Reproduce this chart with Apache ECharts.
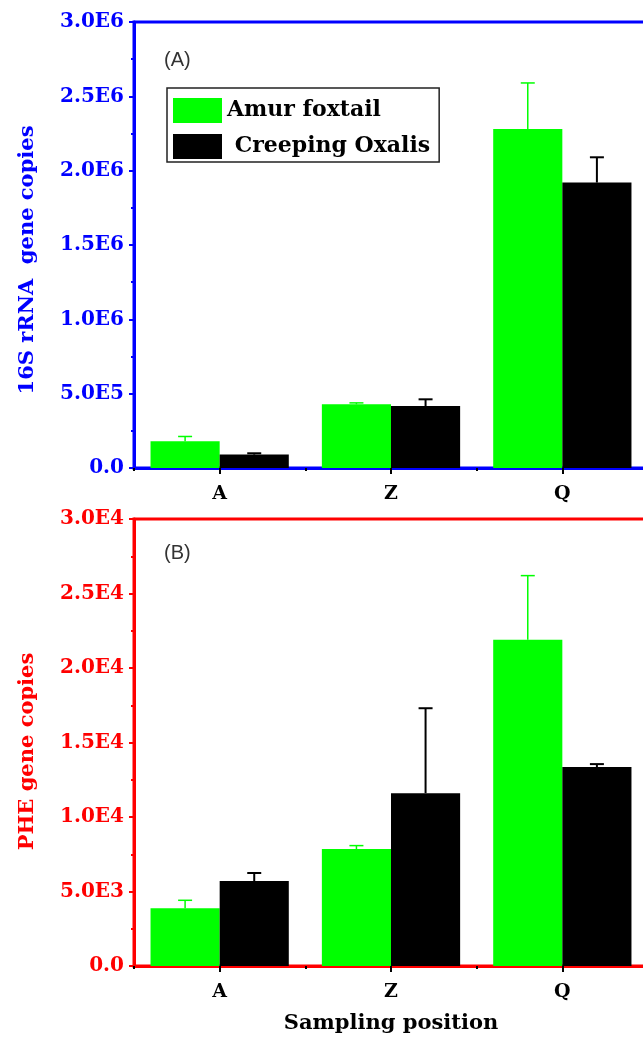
<!DOCTYPE html>
<html>
<head>
<meta charset="utf-8">
<script src="https://cdn.jsdelivr.net/npm/echarts@6/dist/echarts.min.js"></script>
<style>
html,body{margin:0;padding:0;background:#fff;}
#chart{width:643px;height:1038px;}
</style>
</head>
<body>
<div id="chart"></div>
<script>
// ---- data ----
const categories = ['A', 'Z', 'Q'];
const seriesNames = ['Amur foxtail', 'Creeping Oxalis'];

// Panel A: 16S rRNA gene copies
const rrnaAmur = [1.8e5, 4.28e5, 2.28e6];
const rrnaAmurErr = [0.32e5, 0.1e5, 0.31e6];
const rrnaOxalis = [0.9e5, 4.17e5, 1.92e6];
const rrnaOxalisErr = [0.09e5, 0.45e5, 0.17e6];

// Panel B: PHE gene copies
const pheAmur = [3870, 7850, 21900];
const pheAmurErr = [540, 230, 4300];
const pheOxalis = [5700, 11600, 13350];
const pheOxalisErr = [540, 5700, 200];

// tick labels
const rrnaTicks = ['0.0', '5.0E5', '1.0E6', '1.5E6', '2.0E6', '2.5E6', '3.0E6'];
const pheTicks = ['0.0', '5.0E3', '1.0E4', '1.5E4', '2.0E4', '2.5E4', '3.0E4'];

// ---- styles ----
const BLUE = '#0000ff', RED = '#ff0000', GREEN = '#00ff00', BLACK = '#000000';
const SERIF = '"DejaVu Serif", "Liberation Serif", serif';
const CAT_GAP = 0.193;

function errSeries(grid, vals, errs, sign, color, lw) {
  return {
    type: 'custom',
    xAxisIndex: grid * 2,
    yAxisIndex: grid,
    z: 5,
    silent: true,
    data: vals.map((v, i) => [i, v, errs[i]]),
    renderItem: function (params, api) {
      const xi = api.value(0), v = api.value(1), e = api.value(2);
      const base = api.coord([xi, v]);
      const top = api.coord([xi, v + e]);
      const band = api.size([1, 0])[0];
      const bw = band * (1 - CAT_GAP) / 2;
      const x = base[0] + sign * bw / 2;
      const st = { stroke: color, lineWidth: lw };
      return {
        type: 'group',
        children: [
          { type: 'line', shape: { x1: x, y1: base[1], x2: x, y2: top[1] }, style: st },
          { type: 'line', shape: { x1: x - 7, y1: top[1], x2: x + 7, y2: top[1] }, style: st }
        ]
      };
    }
  };
}

function xAxes(grid, color, withName) {
  return [
    {
      gridIndex: grid, type: 'category', data: categories, position: 'bottom',
      axisLine: { show: true, lineStyle: { color: color, width: 3 } },
      axisTick: { show: true, alignWithLabel: true, length: 6, lineStyle: { color: BLACK, width: 2 } },
      axisLabel: { margin: 17, color: BLACK, fontFamily: SERIF, fontWeight: 'bold', fontSize: 19 },
      splitLine: { show: false },
      name: withName ? 'Sampling position' : '',
      nameLocation: 'middle', nameGap: 47,
      nameTextStyle: { color: BLACK, fontFamily: SERIF, fontWeight: 'bold', fontSize: 21 }
    },
    {
      gridIndex: grid, type: 'category', data: categories, position: 'bottom',
      axisLine: { show: false },
      axisTick: { show: true, alignWithLabel: false, length: 3, lineStyle: { color: BLACK, width: 2 } },
      axisLabel: { show: false },
      splitLine: { show: false }
    }
  ];
}

function yAxis(grid, color, max, interval, ticks, name, pad) {
  return {
    gridIndex: grid, type: 'value', min: 0, max: max, interval: interval,
    axisLine: { show: true, lineStyle: { color: color, width: 3 } },
    axisTick: { show: true, length: 5, lineStyle: { color: color, width: 2 } },
    minorTick: { show: true, splitNumber: 2, length: 3, lineStyle: { color: color, width: 2 } },
    splitLine: { show: false },
    minorSplitLine: { show: false },
    axisLabel: {
      margin: 10, color: color, fontFamily: SERIF, fontWeight: 'bold', fontSize: 20,
      formatter: function (v) { return ticks[Math.round(v / interval)]; }
    },
    name: name, nameLocation: 'middle', nameRotate: 90, nameGap: 96,
    nameTextStyle: { color: color, fontFamily: SERIF, fontWeight: 'bold', fontSize: 21, padding: pad }
  };
}

const chart = echarts.init(document.getElementById('chart'), null, { renderer: 'canvas' });
chart.setOption({
  backgroundColor: '#ffffff',
  animation: false,
  grid: [
    { left: 134, top: 22, height: 446, right: -5, show: true, borderColor: BLUE, borderWidth: 3, backgroundColor: 'transparent', outerBoundsMode: 'none', containLabel: false },
    { left: 134, top: 519, height: 447, right: -5, show: true, borderColor: RED, borderWidth: 3, backgroundColor: 'transparent', outerBoundsMode: 'none', containLabel: false }
  ],
  legend: {
    data: seriesNames,
    orient: 'vertical',
    left: 167, top: 88,
    itemWidth: 49, itemHeight: 25, itemGap: 11,
    padding: [10, 9, 3, 6],
    borderColor: '#222', borderWidth: 1.5,
    icon: 'rect',
    selectedMode: false,
    formatter: function (n) { return n === 'Creeping Oxalis' ? ' ' + n : n; },
    textStyle: { color: BLACK, fontFamily: SERIF, fontWeight: 'bold', fontSize: 22 }
  },
  xAxis: [].concat(xAxes(0, BLUE, false), xAxes(1, RED, true)),
  yAxis: [
    yAxis(0, BLUE, 3e6, 5e5, rrnaTicks, '16S rRNA  gene copies', [0, 30, 0, 0]),
    yAxis(1, RED, 3e4, 5e3, pheTicks, 'PHE gene copies', [0, 18, 0, 0])
  ],
  graphic: [
    { type: 'text', left: 164, top: 50, style: { text: '(A)', fill: '#333', font: '20px "Liberation Sans", Arial, sans-serif' } },
    { type: 'text', left: 164, top: 543, style: { text: '(B)', fill: '#333', font: '20px "Liberation Sans", Arial, sans-serif' } }
  ],
  series: [
    { name: 'Amur foxtail', type: 'bar', xAxisIndex: 0, yAxisIndex: 0, data: rrnaAmur, barGap: '0%', barCategoryGap: (CAT_GAP * 100) + '%', itemStyle: { color: GREEN } },
    { name: 'Creeping Oxalis', type: 'bar', xAxisIndex: 0, yAxisIndex: 0, data: rrnaOxalis, barGap: '0%', barCategoryGap: (CAT_GAP * 100) + '%', itemStyle: { color: BLACK } },
    { name: 'Amur foxtail', type: 'bar', xAxisIndex: 2, yAxisIndex: 1, data: pheAmur, barGap: '0%', barCategoryGap: (CAT_GAP * 100) + '%', itemStyle: { color: GREEN } },
    { name: 'Creeping Oxalis', type: 'bar', xAxisIndex: 2, yAxisIndex: 1, data: pheOxalis, barGap: '0%', barCategoryGap: (CAT_GAP * 100) + '%', itemStyle: { color: BLACK } },
    errSeries(0, rrnaAmur, rrnaAmurErr, -1, GREEN, 1.5),
    errSeries(0, rrnaOxalis, rrnaOxalisErr, 1, BLACK, 2),
    errSeries(1, pheAmur, pheAmurErr, -1, GREEN, 1.5),
    errSeries(1, pheOxalis, pheOxalisErr, 1, BLACK, 2)
  ]
});
</script>
</body>
</html>
